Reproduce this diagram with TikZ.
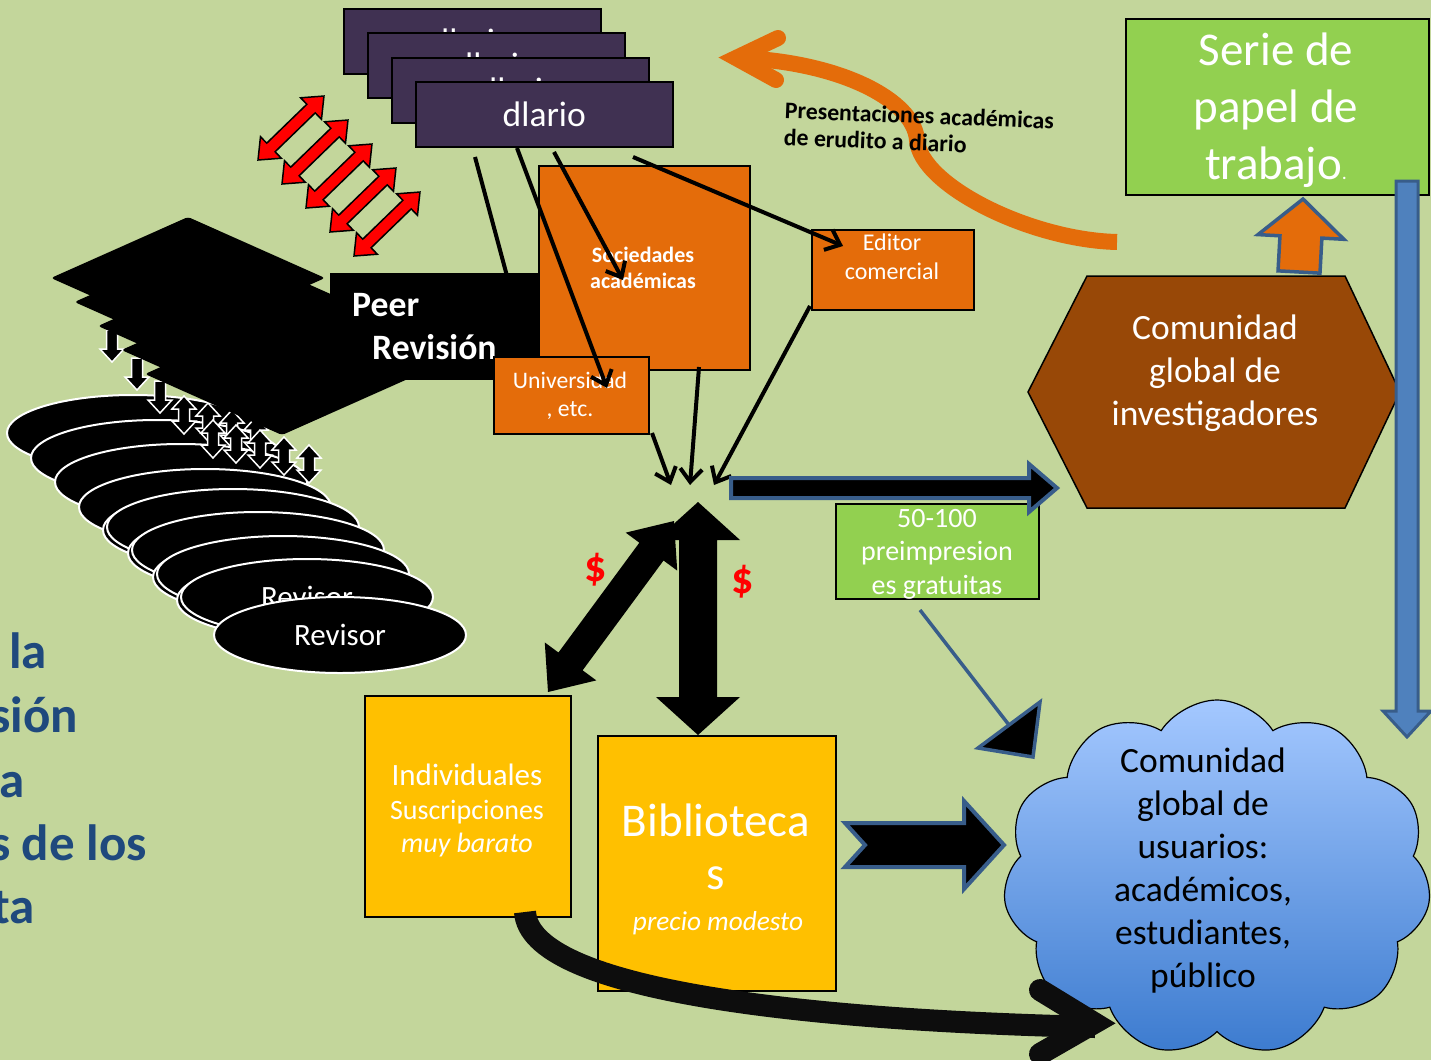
\documentclass[tikz,border=0pt]{standalone}
\usepackage{fontspec}
\setmainfont{Carlito}
\usetikzlibrary{calc,arrows.meta,shapes.geometric,shapes.symbols}

\definecolor{bg}{HTML}{C3D69B}
\definecolor{jpurple}{HTML}{403152}
\definecolor{porange}{HTML}{E46C0A}
\definecolor{pbrown}{HTML}{984807}
\definecolor{pgreen}{HTML}{92D050}
\definecolor{pgold}{HTML}{FFC000}
\definecolor{ptext}{HTML}{1F497D}
\definecolor{pborder}{HTML}{385D8A}
\definecolor{pblue}{HTML}{4F81BD}
\definecolor{cloudtop}{HTML}{A4C8FF}
\definecolor{cloudbot}{HTML}{3C7BCF}
\definecolor{nearblack}{HTML}{0D0D0D}

\newcommand\fs[2]{\fontsize{#1}{#2}\selectfont}

% single-headed block arrow: style, from, to, shaft half width, head half width, head length
\newcommand\sarrow[6]{%
  \path[#1] let \p1=($(#3)-(#2)$), \n1={atan2(\y1,\x1)}, \n2={veclen(\x1,\y1)} in
    ([shift={(#2)},rotate=\n1]0,#4)
    -- ([shift={(#2)},rotate=\n1]{\n2-#6},#4)
    -- ([shift={(#2)},rotate=\n1]{\n2-#6},#5)
    -- ([shift={(#2)},rotate=\n1]\n2,0)
    -- ([shift={(#2)},rotate=\n1]{\n2-#6},-#5)
    -- ([shift={(#2)},rotate=\n1]{\n2-#6},-#4)
    -- ([shift={(#2)},rotate=\n1]0,-#4) -- cycle;}
% double-headed block arrow
\newcommand\darrow[6]{%
  \path[#1] let \p1=($(#3)-(#2)$), \n1={atan2(\y1,\x1)}, \n2={veclen(\x1,\y1)} in
    ([shift={(#2)},rotate=\n1]#6,#4)
    -- ([shift={(#2)},rotate=\n1]{\n2-#6},#4)
    -- ([shift={(#2)},rotate=\n1]{\n2-#6},#5)
    -- ([shift={(#2)},rotate=\n1]\n2,0)
    -- ([shift={(#2)},rotate=\n1]{\n2-#6},-#5)
    -- ([shift={(#2)},rotate=\n1]{\n2-#6},-#4)
    -- ([shift={(#2)},rotate=\n1]#6,-#4)
    -- ([shift={(#2)},rotate=\n1]#6,-#5)
    -- ([shift={(#2)},rotate=\n1]0,0)
    -- ([shift={(#2)},rotate=\n1]#6,#5) -- cycle;}
% notched block arrow (extra: notch depth)
\newcommand\narrow[7]{%
  \path[#1] let \p1=($(#3)-(#2)$), \n1={atan2(\y1,\x1)}, \n2={veclen(\x1,\y1)} in
    ([shift={(#2)},rotate=\n1]0,#4)
    -- ([shift={(#2)},rotate=\n1]{\n2-#6},#4)
    -- ([shift={(#2)},rotate=\n1]{\n2-#6},#5)
    -- ([shift={(#2)},rotate=\n1]\n2,0)
    -- ([shift={(#2)},rotate=\n1]{\n2-#6},-#5)
    -- ([shift={(#2)},rotate=\n1]{\n2-#6},-#4)
    -- ([shift={(#2)},rotate=\n1]0,-#4)
    -- ([shift={(#2)},rotate=\n1]#7,0) -- cycle;}

\tikzset{
  journal/.style={draw=black, line width=1.5pt, fill=jpurple, text=white, font=\fs{35.5}{42},
    minimum width=257pt, minimum height=65pt, anchor=north west, inner sep=0pt},
  pbox/.style={draw=black, line width=1.5pt, anchor=north west, inner sep=0pt},
  wtext/.style={text=white, align=center, inner sep=0pt},
  thinline/.style={line width=4pt, black},
  thinarrow/.style={line width=4pt, black, -{Straight Barb[length=13pt,width=22pt]}},
  redarr/.style={fill=red, draw=black, line width=1.5pt},
  smallarr/.style={fill=black, draw=white, line width=1.5pt},
  revisor/.style={ellipse, fill=black, draw=white, line width=2pt, minimum width=252pt,
    minimum height=76pt, inner sep=0pt, text=white, font=\fs{31}{37}},
  blueedge/.style={fill=black, draw=pborder, line width=4pt, line join=miter},
  lefttext/.style={anchor=base east, text=ptext, font=\bfseries\fs{51}{61}, inner sep=0pt},
  dollar/.style={text=red, font=\bfseries\fs{44}{48}, inner sep=0pt},
}

\begin{document}
\begin{tikzpicture}[x=1pt,y=-1pt]
\useasboundingbox (0,0) rectangle (1431,1060);
\clip (0,0) rectangle (1431,1060);
\fill[bg] (0,0) rectangle (1431,1060);

% left text fragments (cut by the left edge, as in the reference)
\node[lefttext] (lt1) at (47,668) {la};
\node[lefttext] (lt2) at (78,732) {sión};
\node[lefttext] (lt3) at (25,797) {a};
\node[lefttext] (lt4) at (147,860) {s de los};
\node[lefttext] (lt5) at (35,923) {ta};

% red double arrows
\foreach \k in {0,...,4}{
  \coordinate (ra\k) at ({258+24*\k},{160+24*\k});
  \coordinate (rb\k) at ({324+24*\k},{96+24*\k});
  \darrow{redarr}{ra\k}{rb\k}{6}{15}{18}
}

% journal stack
\node[journal] (j1) at (343,8) {dlario};
\node[journal] (j2) at (367,32) {dlario};
\node[journal] (j3) at (391,57) {dlario};
\node[journal] (j4) at (415,81) {dlario};

\coordinate (ja) at (475,157); \coordinate (pa) at (507,276);
\draw[thinline] (ja) -- (pa);

% reviewer ellipses
\foreach \x/\y [count=\i] in {133/433,157/458,181/482,205/507,229/530,233/527,254/553,258/550,279/577,283/574,303/600}
  \node[revisor] (rv\i) at (\x,\y) {};
\node[revisor] (rv12) at (307,597) {Revisor};
\node[revisor] (rvfinal) at (340,635) {Revisor};

% small arrows
\foreach \x/\y [count=\i] in {112/330,137/358,160/381}{
  \coordinate (da\i) at (\x,\y); \coordinate (db\i) at (\x,\y+32);
  \sarrow{smallarr}{da\i}{db\i}{5.5}{12}{13}
}
\foreach \x/\y [count=\i] in {184/396,208/403,232/410,256/417,213/420,236/425,260/430,284/437,309/445}{
  \coordinate (ua\i) at (\x,\y); \coordinate (ub\i) at (\x,\y+38);
  \darrow{smallarr}{ua\i}{ub\i}{5.5}{12}{13}
}

% diamonds of the peer review block
\foreach \k in {0,...,4}
  \fill[black, rounded corners=3pt] ({51+23.5*\k},{278+24*\k}) -- ++(137,-61) -- ++(137,61) -- ++(-137,61) -- cycle;

\node[fill=black, minimum width=212pt, minimum height=107pt, anchor=north west, inner sep=0pt] (peer) at (330,273) {};
\node[anchor=base west, text=white, font=\bfseries\fs{35.7}{43}, inner sep=0pt] (peer1) at (352,316) {Peer};
\node[anchor=base west, text=white, font=\bfseries\fs{35.7}{43}, inner sep=0pt] (peer2) at (372,359) {Revisión};

% orange boxes
\node[pbox, fill=porange, minimum width=211pt, minimum height=204pt] (soc) at (538,165) {};
\node[wtext, font=\bfseries\fs{22}{26}] (soct) at (643,268) {Sociedades\\académicas};
\node[pbox, fill=porange, minimum width=155pt, minimum height=77pt] (uni) at (493,356) {};
\node[wtext, font=\fs{23.7}{28}] (unit) at (570,396) {Universidad\\, etc.};
\node[pbox, fill=porange, minimum width=162pt, minimum height=80pt] (ed) at (811,229) {};
\node[wtext, font=\fs{24}{29}] (edt) at (892,257) {Editor\\comercial};

% arrows from the journal
\coordinate (jb) at (517,148); \coordinate (ub) at (607,388);
\coordinate (jc) at (554,152); \coordinate (sc) at (623,280);
\coordinate (jd) at (633,157); \coordinate (ee) at (843,246);
\draw[thinarrow] (jb) -- (ub);
\draw[thinarrow] (jc) -- (sc);
\draw[thinarrow] (jd) -- (ee);

% converging arrows
\coordinate (u2) at (652,433); \coordinate (h1) at (671,485);
\coordinate (s2) at (699,367); \coordinate (h2) at (690,485);
\coordinate (e2) at (810,306); \coordinate (h3) at (714,485);
\draw[thinarrow] (u2) -- (h1);
\draw[thinarrow] (s2) -- (h2);
\draw[thinarrow] (e2) -- (h3);

% orange curved arrow
\coordinate (oc1) at (1117,242); \coordinate (oc2) at (740,58);
\draw[porange, line width=16pt] (oc1) .. controls (1030,240) and (920,185) .. (917,140)
  .. controls (914,100) and (840,62) .. (oc2);
\coordinate (oa1) at (778,38); \coordinate (otip) at (736,58); \coordinate (oa2) at (776,80);
\draw[porange, line width=16pt, line cap=round, line join=miter] (oa1) -- (otip) -- (oa2);
\node[rotate=-2.3, align=left, font=\bfseries\fs{23.8}{27}, inner sep=0pt] (lbl) at (919,129)
  {Presentaciones académicas\\de erudito a diario};

% working paper box
\node[pbox, fill=pgreen, minimum width=303pt, minimum height=176pt] (serie) at (1125,18) {};
\node[wtext, font=\fs{47}{57}] (seriet) at (1276,110) {Serie de\\papel de\\trabajo{\fs{20}{20}.}};

% researchers hexagon
\draw[fill=pbrown, draw=black, line width=1.5pt] (1087,276) -- (1345,276) -- (1400,392) -- (1345,508) -- (1087,508) -- (1028,392) -- cycle;
\node[wtext, font=\fs{35.5}{43}] (res) at (1215,373) {Comunidad\\global de\\investigadores};

\coordinate (ou1) at (1299,272); \coordinate (ou2) at (1303,199);
\sarrow{fill=porange, draw=pborder, line width=3.5pt}{ou1}{ou2}{21}{43}{38}
\coordinate (bl1) at (1407,181); \coordinate (bl2) at (1407,737);
\sarrow{fill=pblue, draw=pborder, line width=3pt}{bl1}{bl2}{11}{24}{26}

% preprints
\node[pbox, fill=pgreen, minimum width=203pt, minimum height=95pt] (pre) at (835,503) {};
\node[wtext, font=\fs{28}{33.5}] (pret) at (937,554) {50-100\\preimpresion\\es gratuitas};
\coordinate (ha1) at (731,488); \coordinate (ha2) at (1057,488);
\sarrow{blueedge}{ha1}{ha2}{10}{24}{28}

% subscribers
\node[pbox, fill=pgold, minimum width=206pt, minimum height=221pt] (ind) at (364,695) {};
\node[anchor=base, text=white, font=\fs{31}{37}, inner sep=0pt] (ind1) at (467,785) {Individuales};
\node[anchor=base, text=white, font=\fs{28}{33}, inner sep=0pt] (ind2) at (467,819) {Suscripciones};
\node[anchor=base, text=white, font=\itshape\fs{28}{33}, inner sep=0pt] (ind3) at (467,852) {muy barato};
\node[pbox, fill=pgold, minimum width=238pt, minimum height=255pt] (bib) at (597,735) {};
\node[anchor=base, text=white, font=\fs{47}{56}, inner sep=0pt] (bib1) at (716,836) {Biblioteca};
\node[anchor=base, text=white, font=\fs{47}{56}, inner sep=0pt] (bib2) at (716,889) {s};
\node[anchor=base, text=white, font=\itshape\fs{27.3}{33}, inner sep=0pt] (bib3) at (718,930) {precio modesto};

% big black arrows
\coordinate (dg1) at (548,692); \coordinate (dg2) at (674,521);
\darrow{fill=black}{dg1}{dg2}{15}{32}{38}
\coordinate (vt1) at (698,502); \coordinate (vt2) at (698,735);
\darrow{fill=black}{vt1}{vt2}{19}{42}{38}
\node[dollar] (d1) at (596,570) {\$};
\node[dollar] (d2) at (743,582) {\$};

% users cloud
\node[cloud, cloud puffs=11, cloud puff arc=115, aspect=1.2, draw=black, line width=1.2pt,
  top color=cloudtop, bottom color=cloudbot, minimum width=428pt, minimum height=356pt,
  inner sep=0pt] (users) at (1217,878) {};
\node[align=center, font=\fs{35.5}{43}, inner sep=0pt] (userst) at (1203,871)
  {Comunidad\\global de\\usuarios:\\académicos,\\estudiantes,\\público};

\coordinate (na1) at (845,845); \coordinate (na2) at (1004,845);
\narrow{blueedge}{na1}{na2}{22}{44}{40}{20}

\coordinate (bp1) at (920,610); \coordinate (bp2) at (1009,725);
\draw[pborder, line width=3.5pt] (bp1) -- (bp2);
\filldraw[fill=black, draw=pborder, line width=3.5pt, line join=miter] (1040,702) -- (1033,757) -- (978,748) -- cycle;

% curved arrow from individual subscriptions
\coordinate (cb1) at (525,912); \coordinate (cb2) at (1095,1027);
\draw[nearblack, line width=22pt] (cb1) .. controls (530,990) and (800,1020) .. (cb2);
\coordinate (ca1) at (1040,990); \coordinate (ctip) at (1094,1023); \coordinate (ca2) at (1040,1054);
\draw[nearblack, line width=22pt, line cap=round, line join=miter] (ca1) -- (ctip) -- (ca2);
\end{tikzpicture}
\end{document}
